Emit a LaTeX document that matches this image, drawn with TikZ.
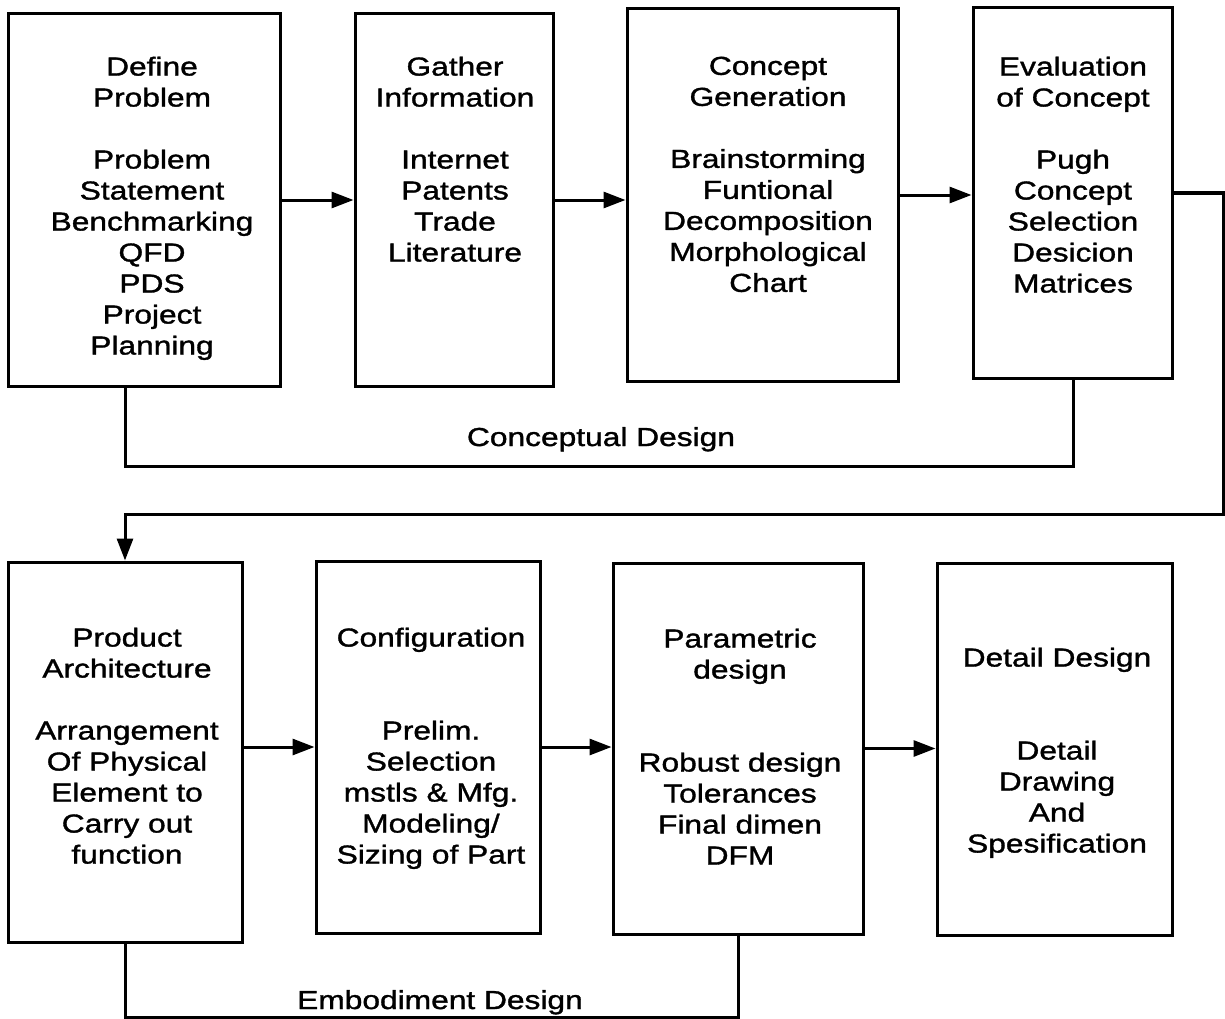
\documentclass[tikz,border=0pt]{standalone}
\usepackage{fontspec}
\setmainfont[FakeStretch=1.22,FakeBold=1.3]{Liberation Sans}
\usetikzlibrary{arrows.meta}
\begin{document}
\begin{tikzpicture}[x=1pt,y=-1pt,
  box/.style={draw=black,line width=3pt,inner sep=0pt},
  txt/.style={align=center,inner sep=0pt,anchor=north,font=\fontsize{26}{31}\selectfont},
  lbl/.style={inner sep=0pt,anchor=base,font=\fontsize{26}{31}\selectfont},
  arr/.style={line width=3pt,-{Triangle[length=22pt,width=16pt]}},
  wire/.style={line width=3pt}]
\useasboundingbox (0,0) rectangle (1225,1019);
% boxes
\node[box,minimum width=272pt,minimum height=372pt] (b1) at (144,200) {};
\node[box,minimum width=198pt,minimum height=372pt] (b2) at (454,200) {};
\node[box,minimum width=271pt,minimum height=372pt] (b3) at (762.5,195) {};
\node[box,minimum width=199pt,minimum height=370pt] (b4) at (1072.5,193) {};
\node[box,minimum width=234pt,minimum height=380pt] (b5) at (125,752) {};
\node[box,minimum width=224pt,minimum height=372pt] (b6) at (428,747) {};
\node[box,minimum width=250pt,minimum height=371pt] (b7) at (738,748.5) {};
\node[box,minimum width=235pt,minimum height=372pt] (b8) at (1054.5,749) {};
% texts
\node[txt] (t1) at (152,56.5) {Define\\Problem\\[31pt]Problem\\Statement\\Benchmarking\\QFD\\PDS\\Project\\Planning};
\node[txt] (t2) at (455,56.5) {Gather\\Information\\[31pt]Internet\\Patents\\Trade\\Literature};
\node[txt] (t3) at (768,56.5) {Concept\\Generation\\[31pt]Brainstorming\\Funtional\\Decomposition\\Morphological\\Chart};
\node[txt] (t4) at (1073,56.5) {Evaluation\\of Concept\\[31pt]Pugh\\Concept\\Selection\\Desicion\\Matrices};
\node[txt] (t5) at (127,627.5) {Product\\Architecture\\[31pt]Arrangement\\Of Physical\\Element to\\Carry out\\function};
\node[txt] (t6) at (431,627.5) {Configuration\\[62pt]Prelim.\\Selection\\mstls \& Mfg.\\Modeling/\\Sizing of Part};
\node[txt] (t7) at (740,628.5) {Parametric\\design\\[62pt]Robust design\\Tolerances\\Final dimen\\DFM};
\node[txt] (t8) at (1057,647.5) {Detail Design\\[62pt]Detail\\Drawing\\And\\Spesification};
% row arrows
\draw[arr] (b1.east) -- (b1.east -| b2.west);
\draw[arr] (b2.east) -- (b2.east -| b3.west);
\draw[arr] (b3.east) -- (b3.east -| b4.west);
\draw[arr] (b6.west -| b5.east) -- (b6.west);
\draw[arr] (b6.east) -- (b6.east -| b7.west);
\draw[arr] (b7.east) -- (b7.east -| b8.west);
% return connector
\coordinate (r1) at (1223,514);
\draw[arr] (b4.east) -| (r1) -| (b5.north);
% conceptual bracket
\coordinate (c1) at (125,466);
\coordinate (c2) at (1073,466);
\draw[wire] (c1 |- b1.south) -- (c1) -- (c2) -- (c2 |- b4.south);
\node[lbl] (lc) at (601,446) {Conceptual Design};
% embodiment bracket
\coordinate (e1) at (0,1017);
\draw[wire] (b5.south) -- (b5.south |- e1) -- (b7.south |- e1) -- (b7.south);
\node[lbl] (le) at (440,1009) {Embodiment Design};
\end{tikzpicture}
\end{document}
